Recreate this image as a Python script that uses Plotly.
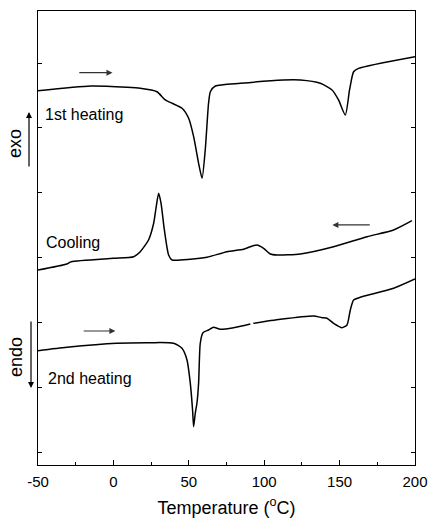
import plotly.graph_objects as go

# 1st heating
t1 = [-50, -15, 9, 17.8, 28.9, 34.4, 38.9, 45.5, 49.9, 53.2, 56.5, 58.8, 60.9, 63.1, 64.3, 67.6, 84.2,
      112.7, 124, 137.2, 145, 149.3, 153.8, 156.6, 159.3, 162.6, 200]
y1 = [5.574, 5.646, 5.626, 5.611, 5.558, 5.431, 5.380, 5.303, 5.149, 4.866, 4.457, 4.226, 4.662, 5.380, 5.558, 5.646, 5.688,
      5.738, 5.738, 5.688, 5.585, 5.431, 5.2, 5.585, 5.866, 5.918, 6.097]

# Cooling
t2 = [-50, -30.8, -28, 0, 13.4, 17.8, 23.3, 26.7, 28.4, 30, 31.6, 33.8, 36.6, 38.9, 51, 62.1, 75.3, 86.3,
      90.8, 95.2, 99.6, 104, 108.5, 124, 146, 168.2, 185.8, 198]
y2 = [2.815, 2.908, 2.943, 2.995, 3.020, 3.097, 3.277, 3.534, 3.789, 3.995, 3.842, 3.431, 3.046, 2.969, 2.98, 3.011, 3.097, 3.134,
      3.174, 3.2, 3.149, 3.062, 3.046, 3.062, 3.174, 3.328, 3.431, 3.574]

# 2nd heating
t3 = [-50, -30.8, 2.2, 24.5, 39.9, 45.5, 48.8, 51, 52.5, 53.2, 54.3, 55.4, 56.5, 57.6, 59.4, 63.1, 66.4, 70.9,
      79.7, 90.8, None, 92.8, 110.7, 132.8, 138.3, 141.6, 146, 151.6, 154.9, 157.1, 159.3, 163.7, 185.8, 200]
y3 = [1.574, 1.626, 1.688, 1.697, 1.688, 1.611, 1.431, 1.072, 0.662, 0.405, 0.611, 0.765, 1.072, 1.688, 1.851, 1.892, 1.934, 1.903,
      1.928, 1.985, None, 1.995, 2.057, 2.108, 2.082, 2.072, 1.995, 1.928, 1.969, 2.2, 2.354, 2.395, 2.534, 2.677]

x_ticks = [-50, 0, 50, 100, 150, 200]
x_ticklabels = ["-50", "0", "50", "100", "150", "200"]
y_ticks = [0, 1, 2, 3, 4, 5, 6]

FONT = "Arial, Liberation Sans, sans-serif"

fig = go.Figure()
for t, y in [(t1, y1), (t2, y2), (t3, y3)]:
    fig.add_trace(go.Scatter(x=t, y=y, mode="lines", connectgaps=False,
                             line=dict(color="black", width=1.5, shape="spline", smoothing=0.6),
                             showlegend=False, hoverinfo="skip"))

fig.update_layout(
    width=428, height=518,
    margin=dict(l=38, r=13, t=11, b=53),
    paper_bgcolor="white", plot_bgcolor="white",
    font=dict(family=FONT, color="black"),
    xaxis=dict(range=[-50, 200], tickvals=x_ticks, ticktext=x_ticklabels, automargin=False,
               ticks="inside", ticklen=5, tickwidth=1, tickcolor="black", ticklabelstandoff=3,
               minor=dict(ticks="inside", ticklen=3, dtick=25, tick0=-50, tickcolor="black"),
               showline=True, linecolor="black", linewidth=1, mirror=True,
               showgrid=False, zeroline=False, tickfont=dict(size=15),
               title=dict(text="Temperature (<sup>o</sup>C)", font=dict(size=18), standoff=13)),
    yaxis=dict(range=[-0.185, 6.8], tickvals=y_ticks, showticklabels=False, automargin=False,
               ticks="inside", ticklen=4, tickcolor="black",
               showline=True, linecolor="black", linewidth=1, mirror="ticks",
               showgrid=False, zeroline=False),
)

def pxx(px):
    return (px - 38) / 377.0

def pxy(py):
    return (465 - py) / 454.0

# side labels
fig.add_annotation(xref="paper", yref="paper", x=pxx(15), y=pxy(144), text="exo", textangle=-90,
                   xanchor="center", yanchor="middle", showarrow=False, font=dict(size=18))
fig.add_annotation(xref="paper", yref="paper", x=pxx(16), y=pxy(357), text="endo", textangle=-90,
                   xanchor="center", yanchor="middle", showarrow=False, font=dict(size=18))
fig.add_annotation(xref="paper", yref="paper", x=pxx(29), y=pxy(112), ax=0, ay=56, text="",
                   showarrow=True, arrowhead=2, arrowsize=1, arrowwidth=1.2, arrowcolor="black")
fig.add_annotation(xref="paper", yref="paper", x=pxx(31), y=pxy(388), ax=0, ay=-68, text="",
                   showarrow=True, arrowhead=2, arrowsize=1, arrowwidth=1.2, arrowcolor="black")

# curve labels
fig.add_annotation(x=-47, y=5.2, text="1st heating", showarrow=False, xanchor="left", font=dict(size=16))
fig.add_annotation(x=-46, y=3.245, text="Cooling", showarrow=False, xanchor="left", font=dict(size=16))
fig.add_annotation(x=-45, y=1.14, text="2nd heating", showarrow=False, xanchor="left", font=dict(size=16))

# direction arrows
for (xh, xt, yy) in [(-0.6, -23.6, 5.851), (145.2, 171, 3.508), (1.3, -20.7, 1.877)]:
    fig.add_annotation(x=xh, y=yy, ax=xt, ay=yy, axref="x", ayref="y", text="",
                       showarrow=True, arrowhead=2, arrowsize=1, arrowwidth=1.2, arrowcolor="#333333")

fig.write_html("out.html")
